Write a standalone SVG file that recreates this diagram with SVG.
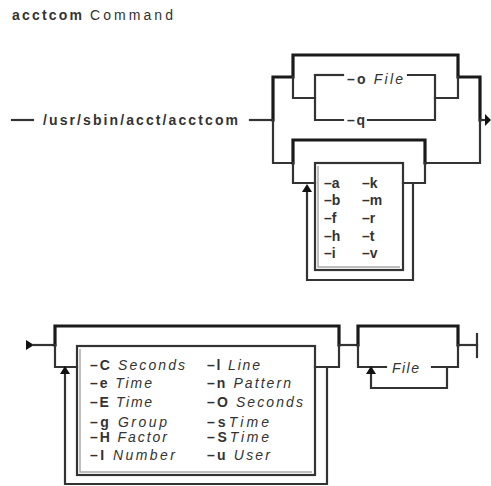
<svg xmlns="http://www.w3.org/2000/svg" width="491" height="486" viewBox="0 0 491 486">
<style>
text{font-family:"Liberation Sans",Arial,sans-serif;font-size:14px;fill:#333}
.b{font-weight:bold}
.i{font-style:italic}
.ln{fill:none;stroke:#333;stroke-width:2.2;stroke-linejoin:miter;stroke-linecap:square}
.tk{fill:none;stroke:#1a1a1a;stroke-width:3.2;stroke-linejoin:miter;stroke-linecap:square}
.bx{fill:none;stroke:#333;stroke-width:2.2}
.sh{fill:none;stroke:#aaa;stroke-width:1.5}
.ar{fill:#111}
</style>
<rect width="491" height="486" fill="#fff"/>
<g id="title">
<text x="12" y="20" class="b" font-size="15" textLength="70" lengthAdjust="spacing">acctcom</text>
<text x="90" y="20" font-size="15" textLength="83" lengthAdjust="spacing">Command</text>
</g>
<g id="connectors">
<path class="ln" d="M12 120H33"/>
<path class="ln" d="M250 120H273"/>
<path class="tk" d="M273 120V77H293V55H458V77H480V120"/>
<path class="ln" d="M273 120V163H293"/>
<path class="ln" d="M480 120V163H425"/>
<path class="ln" d="M480 120H485"/>
<path class="ar" d="M485 114L491 120L485 126Z"/>
<path class="ln" d="M293 77V98H315"/>
<path class="ln" d="M315 75V120H343"/>
<path class="ln" d="M315 75H343"/>
<path class="ln" d="M408 75H435V120H368"/>
<path class="ln" d="M435 98H458V77"/>
<path class="tk" d="M293 163V140H425V163"/>
<path class="ln" d="M293 163V183H315"/>
<path class="ln" d="M403 183H425V163"/>
<path class="ln" d="M307 191V280H413V183"/>
<path class="ar" d="M307 184L302 192H312Z"/>
<path class="ar" d="M26 340L34 345L26 350Z"/>
<path class="ln" d="M33 345H55"/>
<path class="tk" d="M55 345V326H339V345"/>
<path class="ln" d="M55 345V367H77"/>
<path class="ln" d="M315 367H339V345"/>
<path class="ln" d="M65 374V484H327V367"/>
<path class="ar" d="M65 366L60 374H70Z"/>
<path class="ln" d="M339 345H358"/>
<path class="tk" d="M358 345V326H458V345"/>
<path class="ln" d="M358 345V367H386"/>
<path class="ln" d="M432 367H458V345"/>
<path class="ln" d="M371 374V388H447V367"/>
<path class="ar" d="M371 366L366 374H376Z"/>
<path class="ln" d="M458 345H477"/>
<path class="ln" d="M477 334V357"/>
</g>
<g id="cmd">
<text x="43" y="125" class="b" textLength="195" lengthAdjust="spacing">/usr/sbin/acct/acctcom</text>
</g>
<g id="opt-o">
<text x="347" y="84" textLength="56" lengthAdjust="spacing"><tspan class="b">–o</tspan> <tspan class="i">File</tspan></text>
</g>
<g id="opt-q">
<text x="347" y="125" class="b" textLength="18" lengthAdjust="spacing">–q</text>
</g>
<g id="flags-box">
<rect class="bx" x="315" y="163" width="88" height="107"/>
<path class="sh" d="M318 166V267H400"/>
<g class="b">
<text x="324" y="188">–a</text><text x="362" y="188">–k</text>
<text x="324" y="205">–b</text><text x="362" y="205">–m</text>
<text x="324" y="223">–f</text><text x="362" y="223">–r</text>
<text x="324" y="241">–h</text><text x="362" y="241">–t</text>
<text x="324" y="258">–i</text><text x="362" y="258">–v</text>
</g>
</g>
<g id="params-box">
<rect class="bx" x="77" y="346" width="238" height="129"/>
<path class="sh" d="M80 349V472H312"/>
<text x="90" y="370" textLength="95" lengthAdjust="spacing"><tspan class="b">–C</tspan> <tspan class="i">Seconds</tspan></text>
<text x="90" y="388" textLength="62" lengthAdjust="spacing"><tspan class="b">–e</tspan> <tspan class="i">Time</tspan></text>
<text x="90" y="407" textLength="62" lengthAdjust="spacing"><tspan class="b">–E</tspan> <tspan class="i">Time</tspan></text>
<text x="90" y="427" textLength="77" lengthAdjust="spacing"><tspan class="b">–g</tspan> <tspan class="i">Group</tspan></text>
<text x="90" y="442" textLength="77" lengthAdjust="spacing"><tspan class="b">–H</tspan> <tspan class="i">Factor</tspan></text>
<text x="90" y="460" textLength="85" lengthAdjust="spacing"><tspan class="b">–I</tspan> <tspan class="i">Number</tspan></text>
<text x="207" y="370" textLength="53" lengthAdjust="spacing"><tspan class="b">–l</tspan> <tspan class="i">Line</tspan></text>
<text x="207" y="388" textLength="84" lengthAdjust="spacing"><tspan class="b">–n</tspan> <tspan class="i">Pattern</tspan></text>
<text x="207" y="407" textLength="96" lengthAdjust="spacing"><tspan class="b">–O</tspan> <tspan class="i">Seconds</tspan></text>
<text x="207" y="427" textLength="62" lengthAdjust="spacing"><tspan class="b">–s</tspan><tspan class="i">Time</tspan></text>
<text x="207" y="442" textLength="62" lengthAdjust="spacing"><tspan class="b">–S</tspan><tspan class="i">Time</tspan></text>
<text x="207" y="460" textLength="63" lengthAdjust="spacing"><tspan class="b">–u</tspan> <tspan class="i">User</tspan></text>
</g>
<g id="file">
<text x="392" y="373" class="i" textLength="27" lengthAdjust="spacing">File</text>
</g>
</svg>
